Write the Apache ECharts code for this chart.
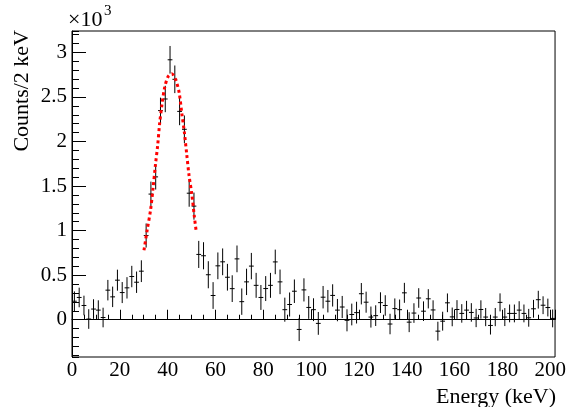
<!DOCTYPE html>
<html><head><meta charset="utf-8">
<script src="https://cdn.jsdelivr.net/npm/echarts@6/dist/echarts.min.js"></script>
<style>html,body{margin:0;padding:0;background:#fff}#c{width:569px;height:407px}</style>
</head><body><div id="c"></div>
<script>
// Bin centers (keV), 2 keV bins
const binCenters = [1,3,5,7,9,11,13,15,17,19,21,23,25,27,29,31,33,35,37,39,
  41,43,45,47,49,51,53,55,57,59,61,63,65,67,69,71,73,75,77,79,
  81,83,85,87,89,91,93,95,97,99,101,103,105,107,109,111,113,115,117,119,
  121,123,125,127,129,131,133,135,137,139,141,143,145,147,149,151,153,155,157,159,
  161,163,165,167,169,171,173,175,177,179,181,183,185,187,189,191,193,195,197,199,201];
const binHalfWidth = 1;
// Counts per bin
const counts = [208,250,160,8,120,108,25,332,257,444,
  305,358,485,421,545,945,1410,1603,2347,2477,
  2917,2698,2338,2137,1420,1275,733,718,505,272,
  605,650,477,349,683,203,425,602,386,250,
  350,386,649,425,113,171,320,-109,335,138,
  113,-41,253,208,273,108,143,-6,59,80,
  292,197,30,46,192,160,-48,125,113,302,
  -27,75,244,96,235,110,-128,-16,190,32,
  115,71,108,82,20,115,30,-64,30,195,
  30,71,71,108,71,22,123,225,163,137,15];
// Error per bin
const errors = [110,110,110,110,110,110,110,
  115,115,118,118,120,120,120,122,
  135,140,142,145,148,
  155,155,155,155,152,152,
  152,152,152,150,150,150,150,150,150,148,148,148,
  140,140,140,140,138,138,135,135,132,
  130,130,128,128,128,126,126,125,125,124,124,122,122,120,
  118,118,116,116,115,115,114,114,112,112,110,110,110,108,108,
  106,106,105,105,105,104,104,104,103,103,102,102,102,101,101,100,100,100,100,100,100,100,100,100,100];
// Gaussian fit curve points
const fitEnergy = [30.1,31.4,32.9,33.9,34.9,35.8,36.6,37.6,38.7,40.2,41.7,43.4,44.8,45.9,47.0,48.0,48.9,50.1,51.2,52.0];
const fitCounts = [780,1000,1240,1480,1740,1950,2190,2410,2600,2730,2760,2690,2550,2320,2100,1850,1630,1410,1150,980];
// Axis ranges
const xRange = [0, 202];
const yRange = [-418, 3240];

const FONT = '"Liberation Serif", "Times New Roman", Times, serif';
const chart = echarts.init(document.getElementById('c'), null, {renderer: 'canvas'});
const pts = binCenters.map((e, i) => [e, counts[i], errors[i]]);
chart.setOption({
  animation: false,
  backgroundColor: '#fff',
  grid: {left: 72, right: 13, top: 31, bottom: 50, show: true, borderColor: '#000', borderWidth: 1},
  xAxis: {
    type: 'value', min: xRange[0], max: xRange[1], interval: 20,
    axisLine: {show: true, lineStyle: {color: '#000', width: 1}},
    axisTick: {inside: true, length: 10, lineStyle: {color: '#000'}},
    minorTick: {show: true, splitNumber: 4, length: 5, lineStyle: {color: '#000'}},
    axisLabel: {margin: 3, color: '#000', fontFamily: FONT, fontSize: 21, showMaxLabel: false, showMinLabel: true},
    splitLine: {show: false}
  },
  yAxis: [{
    type: 'value', min: yRange[0], max: yRange[1], splitNumber: 7,
    axisLine: {show: true, lineStyle: {color: '#000', width: 1}},
    axisTick: {inside: true, length: 14, lineStyle: {color: '#000'}},
    axisLabel: {margin: 5, color: '#000', fontFamily: FONT, fontSize: 21, showMinLabel: false, showMaxLabel: false,
      formatter: v => String(Math.round(v) / 1000)},
    splitLine: {show: false}
  }, {
    type: 'value', min: yRange[0], max: yRange[1], splitNumber: 36, position: 'left',
    axisLine: {show: false},
    axisTick: {inside: true, length: 7, lineStyle: {color: '#000'}},
    axisLabel: {show: false},
    splitLine: {show: false}
  }],
  series: [{
    type: 'custom', clip: true, z: 2,
    data: pts,
    renderItem: (params, api) => {
      const e = api.value(0), v = api.value(1), err = api.value(2);
      const c = api.coord([e, v]);
      const lo = api.coord([e, v - err]);
      const hi = api.coord([e, v + err]);
      const l = api.coord([e - binHalfWidth, v]);
      const r = api.coord([e + binHalfWidth, v]);
      return {type: 'group', children: [
        {type: 'line', shape: {x1: c[0], y1: lo[1], x2: c[0], y2: hi[1]}, style: {stroke: '#000', lineWidth: 1}},
        {type: 'line', shape: {x1: l[0], y1: c[1], x2: r[0], y2: c[1]}, style: {stroke: '#000', lineWidth: 1}}
      ]};
    }
  }, {
    type: 'line', z: 5, smooth: 0.3, showSymbol: false, symbol: 'none',
    data: fitEnergy.map((e, i) => [e, fitCounts[i]]),
    lineStyle: {color: '#ff0000', width: 3, type: [3, 3]}
  }],
  graphic: [
    {type: 'text', x: 68, y: 9, style: {text: '×10', fontFamily: FONT, fontSize: 22, fill: '#000'}},
    {type: 'text', x: 104, y: 4, style: {text: '3', fontFamily: FONT, fontSize: 15, fill: '#000'}},
    {type: 'text', x: 556, y: 386, style: {text: 'Energy (keV)', fontFamily: FONT, fontSize: 22, fill: '#000', align: 'right', verticalAlign: 'top'}},
    {type: 'text', x: 22, y: 30, rotation: Math.PI / 2, style: {text: 'Counts/2 keV', fontFamily: FONT, fontSize: 22, fill: '#000', align: 'right', verticalAlign: 'middle'}}
  ]
});
</script></body></html>
